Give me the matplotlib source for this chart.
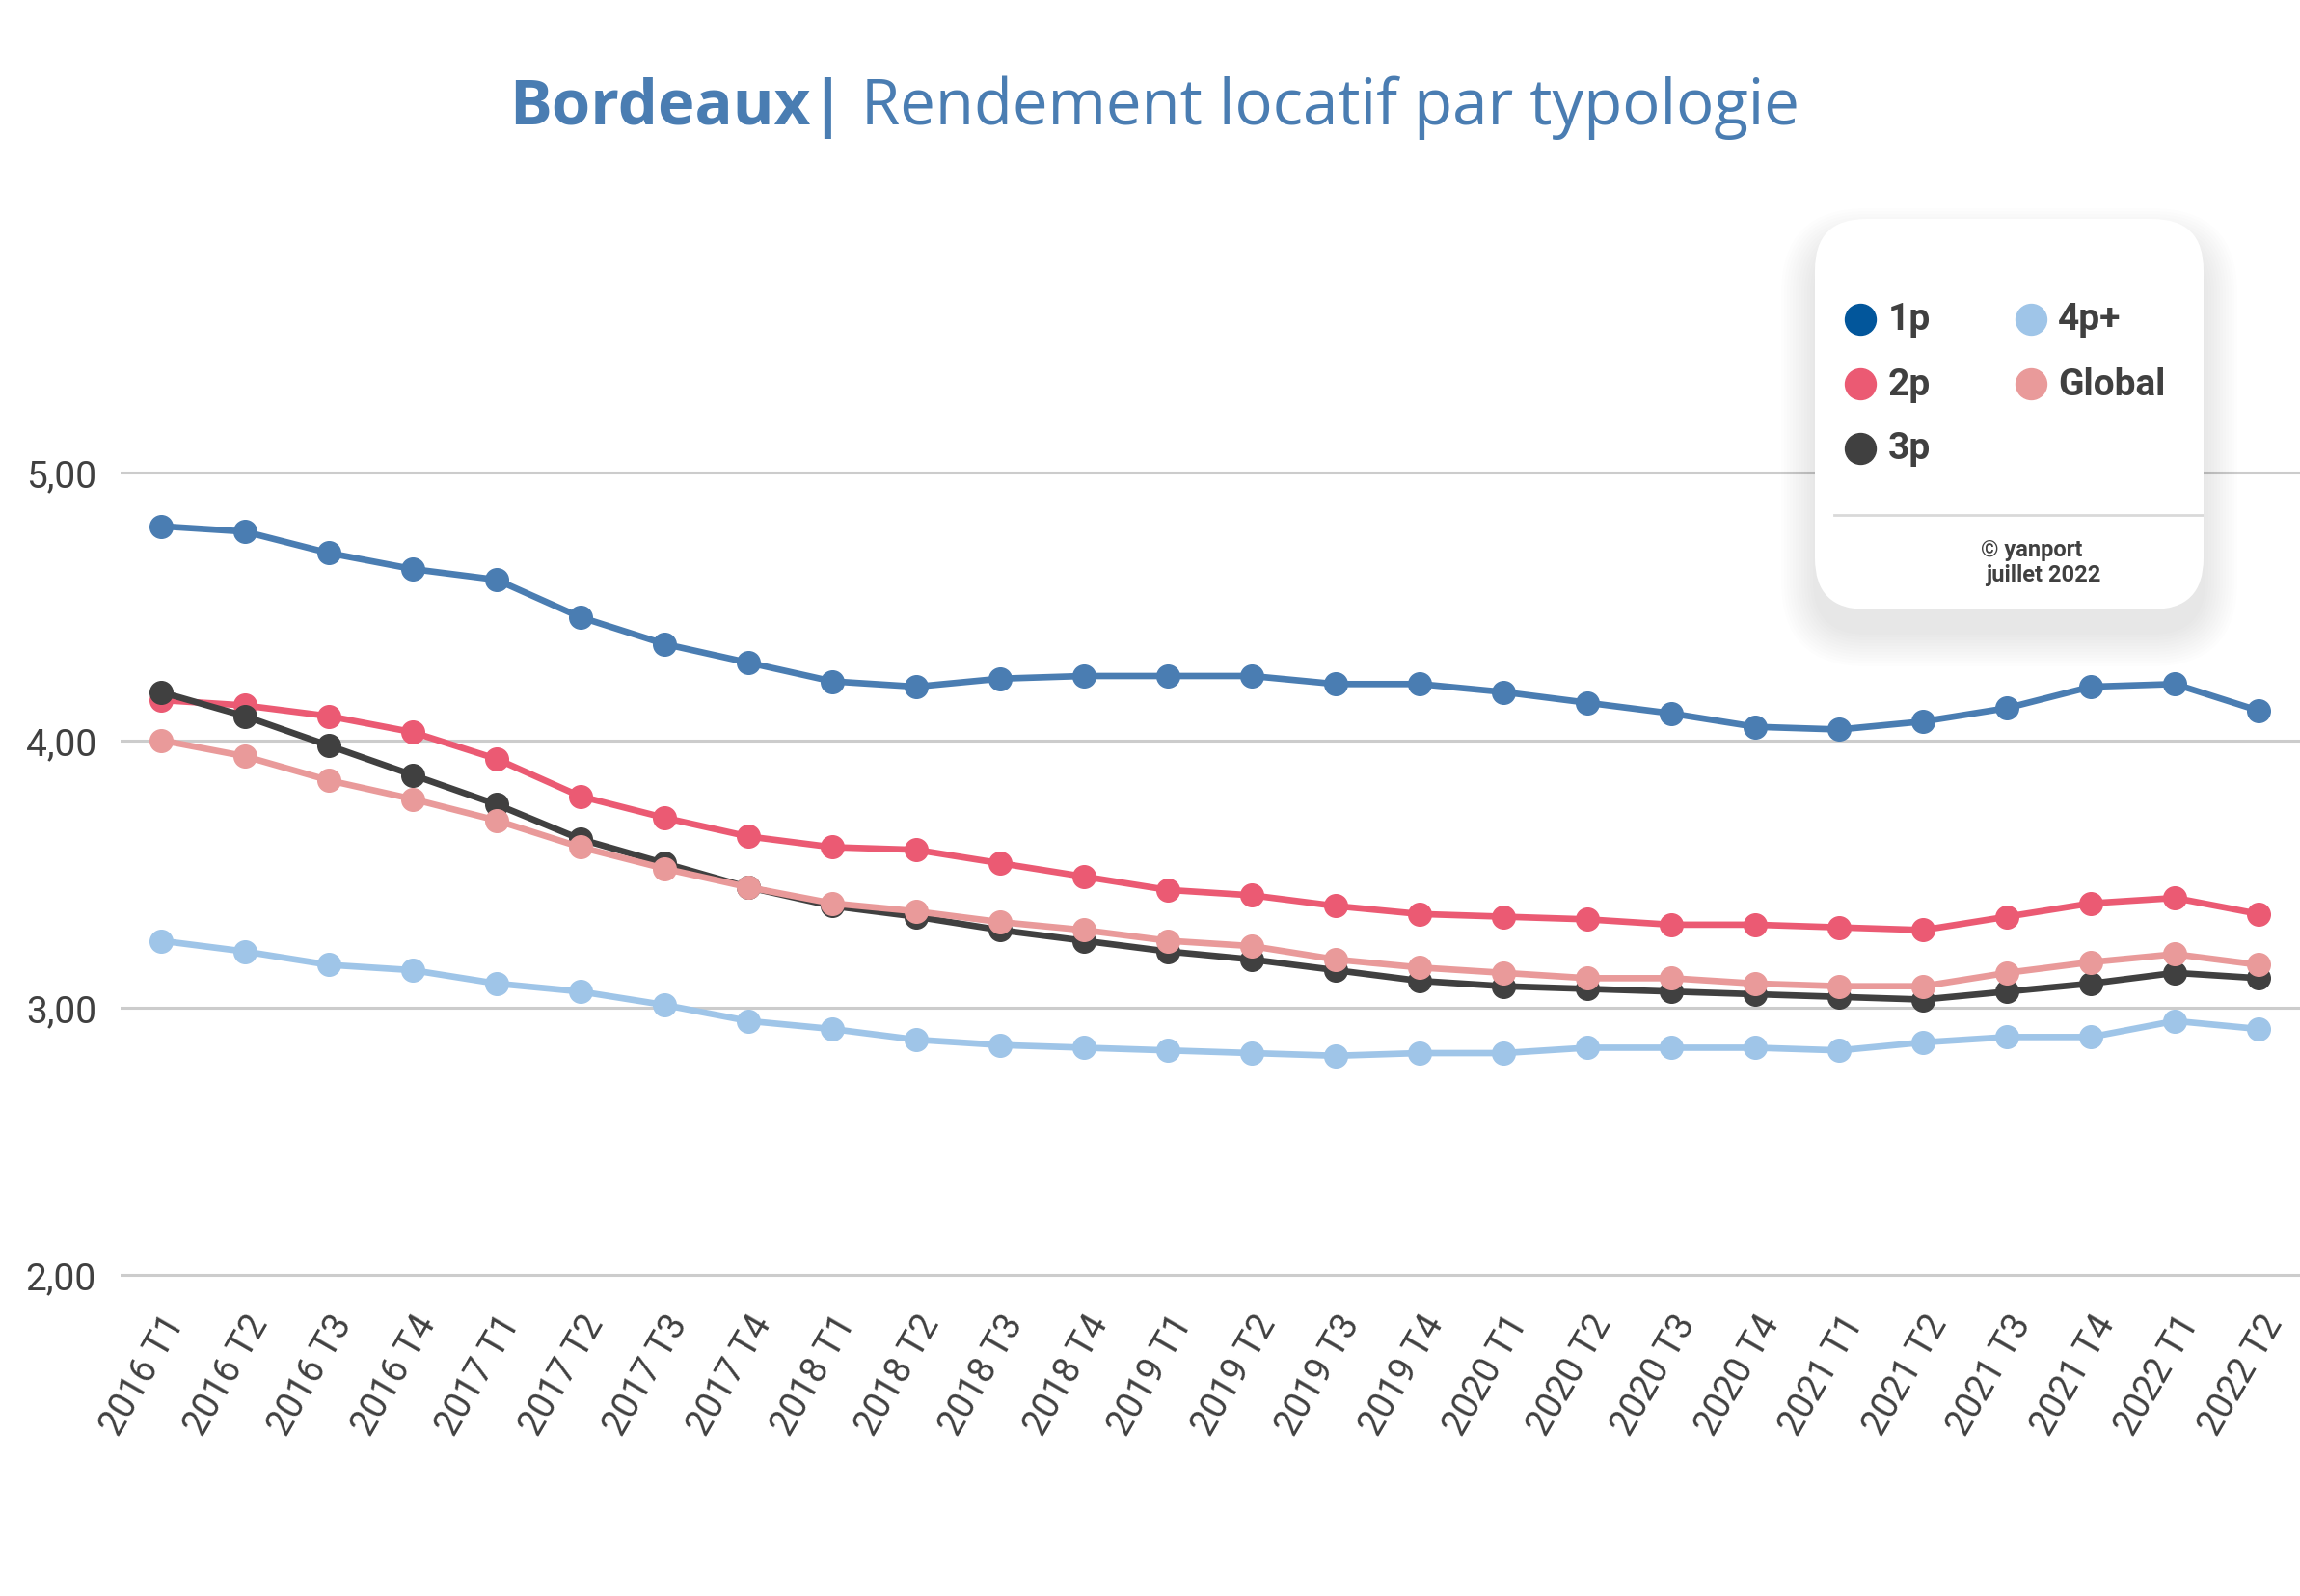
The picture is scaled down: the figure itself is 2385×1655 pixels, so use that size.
import matplotlib
matplotlib.use("Agg")
import matplotlib.pyplot as plt
from matplotlib.patches import FancyBboxPatch

# quarters on the x axis
quarters = ["2016 T1", "2016 T2", "2016 T3", "2016 T4",
            "2017 T1", "2017 T2", "2017 T3", "2017 T4",
            "2018 T1", "2018 T2", "2018 T3", "2018 T4",
            "2019 T1", "2019 T2", "2019 T3", "2019 T4",
            "2020 T1", "2020 T2", "2020 T3", "2020 T4",
            "2021 T1", "2021 T2", "2021 T3", "2021 T4",
            "2022 T1", "2022 T2"]

# rendement locatif (%) par typologie
r_1p = [4.80, 4.78, 4.70, 4.64, 4.60, 4.46, 4.36, 4.29, 4.22, 4.20, 4.23, 4.24, 4.24,
        4.24, 4.21, 4.21, 4.18, 4.14, 4.10, 4.05, 4.04, 4.07, 4.12, 4.20, 4.21, 4.11]
r_2p = [4.15, 4.13, 4.09, 4.03, 3.93, 3.79, 3.71, 3.64, 3.60, 3.59, 3.54, 3.49, 3.44,
        3.42, 3.38, 3.35, 3.34, 3.33, 3.31, 3.31, 3.30, 3.29, 3.34, 3.39, 3.41, 3.35]
r_3p = [4.18, 4.09, 3.98, 3.87, 3.76, 3.63, 3.54, 3.45, 3.38, 3.34, 3.29, 3.25, 3.21,
        3.18, 3.14, 3.10, 3.08, 3.07, 3.06, 3.05, 3.04, 3.03, 3.06, 3.09, 3.13, 3.11]
r_4p = [3.25, 3.21, 3.16, 3.14, 3.09, 3.06, 3.01, 2.95, 2.92, 2.88, 2.86, 2.85, 2.84,
        2.83, 2.82, 2.83, 2.83, 2.85, 2.85, 2.85, 2.84, 2.87, 2.89, 2.89, 2.95, 2.92]
r_global = [4.00, 3.94, 3.85, 3.78, 3.70, 3.60, 3.52, 3.45, 3.39, 3.36, 3.32, 3.29, 3.25,
            3.23, 3.18, 3.15, 3.13, 3.11, 3.11, 3.09, 3.08, 3.08, 3.13, 3.17, 3.20, 3.16]

yticks = [2, 3, 4, 5]
ylabels = ["2,00", "3,00", "4,00", "5,00"]

# name, values, line colour, legend dot colour, zorder
series = [
    ("1p", r_1p, "#4a7db2", "#02569b", 6),
    ("2p", r_2p, "#eb5a73", "#eb5a73", 3),
    ("3p", r_3p, "#404040", "#404040", 4),
    ("4p+", r_4p, "#9fc5e8", "#9fc5e8", 6),
    ("Global", r_global, "#e99a9a", "#e99a9a", 5),
]

TXT = "#404040"
W, H = 2385, 1656

fig = plt.figure(figsize=(W / 100, H / 100), dpi=100)
ax = fig.add_axes([0.0524, 0.1926, 0.9476, 0.5945])

x = range(len(quarters))
for name, vals, col, _, z in series:
    ax.plot(x, vals, "-o", color=col, lw=4.8, ms=17, zorder=z, solid_joinstyle="round")

ax.set_xlim(-0.48, 25.49)
ax.set_ylim(1.95, 5.5)
ax.set_yticks(yticks)
ax.set_yticklabels(ylabels, family="Roboto", fontsize=28, color=TXT)
ax.set_xticks(list(x))
ax.set_xticklabels(quarters, rotation=60, ha="right", rotation_mode="anchor",
                   family="Roboto", fontsize=27, color=TXT)
ax.tick_params(length=0)
ax.tick_params(axis="y", pad=18)
ax.tick_params(axis="x", pad=15)
ax.yaxis.grid(True, color="#cccccc", lw=2.2)
ax.set_axisbelow(True)
for s in ax.spines.values():
    s.set_visible(False)

# title in two parts: bold city + regular subtitle
t1 = fig.text(0.2213, 0.922, "Bordeaux|", family="Open Sans", weight="bold",
              fontsize=47, color="#4a7db2", va="baseline", ha="left")
fig.canvas.draw()
bb = t1.get_window_extent(renderer=fig.canvas.get_renderer())
fig.text(bb.x1 / W, 0.922, " Rendement locatif par typologie", family="Open Sans",
         fontsize=47, color="#4a7db2", va="baseline", ha="left")

# legend card
lx0, ly_top, lw_, lh_ = 1882, 228, 403, 405
lax = fig.add_axes([lx0 / W, 1 - (ly_top + lh_) / H, lw_ / W, lh_ / H])
lax.set_xlim(0, lw_)
lax.set_ylim(0, lh_)
lax.axis("off")
for i in range(12):
    p = 2 + i * 3
    lax.add_patch(FancyBboxPatch((0, -24), lw_, lh_, boxstyle=f"round,pad={p},rounding_size={53 + p}",
                                 fc="black", ec="none", alpha=0.006, clip_on=False))
lax.add_patch(FancyBboxPatch((0, 0), lw_, lh_, boxstyle="round,pad=0,rounding_size=53",
                             fc="white", ec="none", clip_on=False))

cols_dot = [47, 224]
cols_txt = [76, 252]
rows = [301, 234, 167]
for i, (name, _, _, dot, _) in enumerate(series):
    c, r = (0, i) if i < 3 else (1, i - 3)
    lax.plot(cols_dot[c], rows[r], "o", ms=23, color=dot, clip_on=False)
    lax.text(cols_txt[c], rows[r], name, family="Roboto", weight="bold", fontsize=28,
             color=TXT, va="center", ha="left")
lax.plot([20, lw_], [98, 98], color="#d9d9d9", lw=2)
lax.text(225, 62, "© yanport", family="Roboto", weight="bold", fontsize=17,
         color=TXT, ha="center", va="center")
lax.text(237, 36, "juillet 2022", family="Roboto", weight="bold", fontsize=17,
         color=TXT, ha="center", va="center")

fig.savefig("out.png", dpi=100, facecolor="white")
